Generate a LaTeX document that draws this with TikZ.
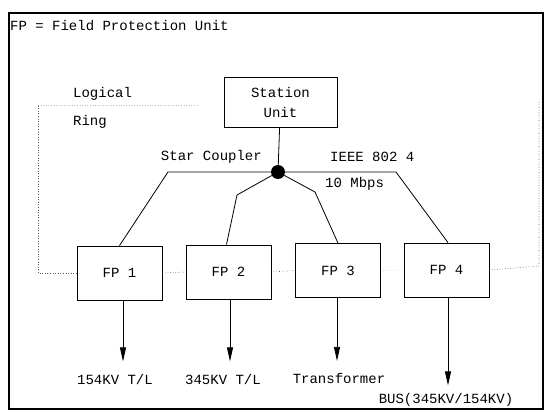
\documentclass[tikz,border=0pt]{standalone}
\usepackage{fontspec}
\setmonofont{Liberation Mono}
\usetikzlibrary{arrows.meta,calc,positioning}

\begin{document}
\begin{tikzpicture}[x=1pt,y=-1pt,>={Triangle[length=14pt,width=6pt]},
  every node/.style={font=\ttfamily\fontsize{14}{20}\selectfont,inner sep=0pt},
  unitbox/.style={draw,line width=0.8pt,minimum width=85pt,minimum height=54pt},
  ringline/.style={dotted,line width=0.6pt,gray!70!black},
  busline/.style={line width=0.8pt}]
  \useasboundingbox (0,0) rectangle (547,412);

  % Frame
  \draw[line width=1.4pt] (9,13) rectangle (543,409);
  \draw[line width=2.4pt] (9,13) -- (9,409);
  \node[anchor=west] (legend) at (10,26) {FP = Field Protection Unit};

  % Station unit and star coupler
  \node[draw,line width=0.8pt,minimum width=113pt,minimum height=50pt,align=center]
    (station) at (280.5,102) {Station\\Unit};
  \node[circle,fill=black,minimum size=14pt] (star) at (278,172) {};
  \draw[busline] (station) -- (star);
  \node[anchor=east] (starlbl) at (262,157) {Star Coupler};
  \node[anchor=west] (ieee) at (330,157) {IEEE 802 4};
  \node[anchor=west] (rate) at (325,184) {10 Mbps};

  % Field protection units
  \node[unitbox] (fp1) at (119.5,273) {FP 1};
  \node[unitbox] (fp2) at (228.5,272) {FP 2};
  \node[unitbox] (fp3) at (338,270.5) {FP 3};
  \node[unitbox] (fp4) at (446.5,270) {FP 4};

  % Links from the coupler
  \coordinate (k1) at (168,172);
  \coordinate (k2) at (237,195);
  \coordinate (k3) at (315,192);
  \coordinate (k4) at (396,172);
  \draw[busline] (star) -- (k1) -- (fp1.north);
  \draw[busline] (star) -- (k2) -- ([xshift=-2pt]fp2.north);
  \draw[busline] (star) -- (k3) -- (fp3.north);
  \draw[busline] (star) -- (k4) -- ([xshift=1.5pt]fp4.north);

  % Logical ring
  \coordinate (r1) at (38,273);
  \coordinate (r2) at (38,105);
  \coordinate (r3) at (197,105);
  \coordinate (r4) at (539,266);
  \coordinate (r5) at (539,100);
  \draw[ringline] (fp1.west) -- (r1) -- (r2);
  \draw[ringline,gray!50] (r2) -- (r3);
  \draw[ringline] (fp1.east) -- (fp2.west);
  \draw[ringline] (fp2.east) -- (fp3.west);
  \draw[ringline,gray!50] (fp3.east) -- (fp4.west);
  \draw[ringline] (fp4.east) -- (r4) -- (r5);
  \node[anchor=west] (logical) at (73,94) {Logical};
  \node[anchor=west] (ring) at (73,122) {Ring};

  % Outputs
  \node (out1) at (115,379) {154KV T/L};
  \node (out2) at (223,379) {345KV T/L};
  \node (out3) at (339,378) {Transformer};
  \node (out4) at (446,400) {BUS(345KV/154KV)};
  \draw[->,busline] ([xshift=3.5pt]fp1.south) -- ++(0,61);
  \draw[->,busline] ([xshift=1.5pt]fp2.south) -- ++(0,62);
  \draw[->,busline] ([xshift=-1pt]fp3.south) -- ++(0,63);
  \draw[->,busline] ([xshift=1.5pt]fp4.south) -- ++(0,88);
\end{tikzpicture}
\end{document}
